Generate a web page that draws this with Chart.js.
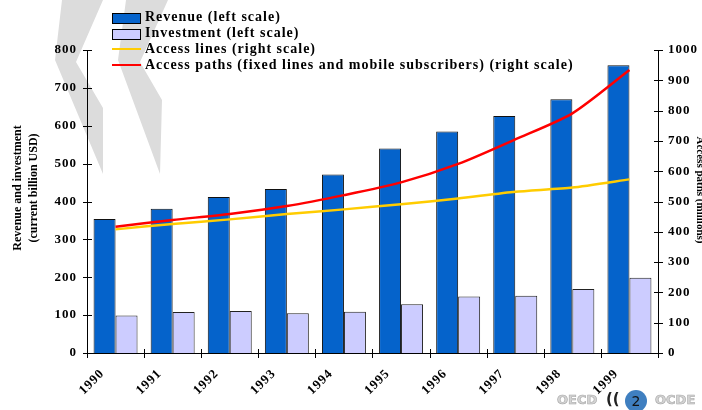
<!DOCTYPE html>
<html>
<head>
<meta charset="utf-8">
<script src="https://cdn.jsdelivr.net/npm/chart.js@4.4.1/dist/chart.umd.min.js"></script>
<style>
  html, body { margin: 0; padding: 0; background: #fff; }
  #wrap { position: relative; width: 702px; height: 410px; overflow: hidden; }
  #chart { position: absolute; left: 0; top: 0; }
  .legend { position: absolute; left: 112px; top: 9px; font: bold 14px "Liberation Serif", serif; letter-spacing: 1px; color: #000; }
  .legend div { height: 16px; line-height: 16px; position: relative; padding-left: 33px; white-space: nowrap; }
  .legend .box { position: absolute; left: 0; top: 4px; width: 27px; height: 9px; border: 1px solid #000; }
  .legend .ln { position: absolute; left: 0; top: 7px; width: 29px; height: 2px; }
</style>
</head>
<body>
<div id="wrap">
  <canvas id="chart" width="702" height="410"></canvas>
  <div class="legend">
    <div><span class="box" style="background:#0563CB"></span>Revenue (left scale)</div>
    <div><span class="box" style="background:#CCCCFF"></span>Investment (left scale)</div>
    <div><span class="ln" style="background:#FFCC00"></span>Access lines (right scale)</div>
    <div><span class="ln" style="background:#FF0000"></span>Access paths (fixed lines and mobile subscribers) (right scale)</div>
  </div>
</div>
<script>
// data
const years = ['1990', '1991', '1992', '1993', '1994', '1995', '1996', '1997', '1998', '1999'];
const revenue = [354, 381, 412, 433, 471, 540, 585, 626, 670, 760];
const investment = [99, 108, 111, 105, 109, 129, 149, 151, 169, 199];
const accessLines = [408, 426, 441, 459, 474, 491, 510, 532, 546, 573];
const accessPaths = [417, 439, 459, 485, 521, 563, 624, 705, 791, 934];

const leftTicks = [0, 100, 200, 300, 400, 500, 600, 700, 800];
const rightTicks = [0, 100, 200, 300, 400, 500, 600, 700, 800, 900, 1000];

const serif = '"Liberation Serif", "Times New Roman", serif';

// grey chevron watermark behind the chart
const watermark = {
  id: 'watermark',
  beforeDraw(chart) {
    const ctx = chart.ctx;
    ctx.save();
    ctx.fillStyle = '#dcdcdc';
    const shapes = [
      [[62, 0], [103, 0], [76, 62], [103, 108], [103, 174], [55, 60]],
      [[126, 0], [168, 0], [140, 62], [162, 100], [160, 174], [118, 60]]
    ];
    shapes.forEach(pts => {
      ctx.beginPath();
      pts.forEach((p, i) => i ? ctx.lineTo(p[0], p[1]) : ctx.moveTo(p[0], p[1]));
      ctx.closePath();
      ctx.fill();
    });
    ctx.restore();
    ctx.letterSpacing = '1px';
  }
};

// axis lines with crossing tick marks, titles and logo
const axesDecor = {
  id: 'axesDecor',
  afterDraw(chart) {
    const ctx = chart.ctx;
    const { x, y, y1 } = chart.scales;
    const area = chart.chartArea;
    ctx.save();
    ctx.letterSpacing = '0px';
    ctx.strokeStyle = '#000';
    ctx.lineWidth = 1;
    ctx.beginPath();
    // left axis
    ctx.moveTo(area.left + 0.5, y.getPixelForValue(800));
    ctx.lineTo(area.left + 0.5, area.bottom);
    leftTicks.forEach(v => {
      const py = Math.round(y.getPixelForValue(v)) + 0.5;
      ctx.moveTo(area.left - 4, py);
      ctx.lineTo(area.left + 5, py);
    });
    // right axis
    ctx.moveTo(area.right + 0.5, y1.getPixelForValue(1000));
    ctx.lineTo(area.right + 0.5, area.bottom);
    rightTicks.forEach(v => {
      const py = Math.round(y1.getPixelForValue(v)) + 0.5;
      ctx.moveTo(area.right - 4, py);
      ctx.lineTo(area.right + 5, py);
    });
    // bottom axis, ticks between categories
    ctx.moveTo(area.left, area.bottom + 0.5);
    ctx.lineTo(area.right, area.bottom + 0.5);
    const step = (x.getPixelForValue(1) - x.getPixelForValue(0));
    for (let i = 0; i <= years.length; i++) {
      const px = Math.round(x.getPixelForValue(0) - step / 2 + i * step) + 0.5;
      ctx.moveTo(px, area.bottom - 4);
      ctx.lineTo(px, area.bottom + 5);
    }
    ctx.stroke();

    // axis titles
    ctx.fillStyle = '#000';
    ctx.font = 'bold 12px ' + serif;
    ctx.textAlign = 'center';
    ctx.textBaseline = 'alphabetic';
    ctx.save();
    ctx.translate(21, 188);
    ctx.rotate(-Math.PI / 2);
    ctx.fillText('Revenue and investment', 0, 0);
    ctx.fillText('(current billion USD)', 0, 16);
    ctx.restore();
    ctx.save();
    ctx.translate(697, 190);
    ctx.rotate(Math.PI / 2);
    ctx.font = 'bold 11px ' + serif;
    ctx.fillText('Access paths (millions)', 0, 0);
    ctx.restore();

    // logo at the bottom right
    ctx.font = 'bold 13px "DejaVu Sans", sans-serif';
    ctx.textBaseline = 'middle';
    ctx.textAlign = 'left';
    ctx.fillStyle = '#d4d4d4';
    ctx.strokeStyle = '#a8a8a8';
    ctx.lineWidth = 0.6;
    ctx.fillText('OECD', 557, 401);
    ctx.strokeText('OECD', 557, 401);
    ctx.fillText('OCDE', 655, 401);
    ctx.strokeText('OCDE', 655, 401);
    ctx.fillStyle = '#222';
    ctx.font = 'bold 15px "DejaVu Sans", sans-serif';
    ctx.fillText('((', 606, 400);
    ctx.fillStyle = '#3f7fc0';
    ctx.beginPath();
    ctx.arc(636, 401, 11, 0, Math.PI * 2);
    ctx.fill();
    ctx.fillStyle = '#111';
    ctx.font = '14px "DejaVu Sans", sans-serif';
    ctx.textAlign = 'center';
    ctx.fillText('2', 636, 402);
    ctx.restore();
  }
};

const tickFont = { family: serif, size: 13, weight: 'bold' };

new Chart(document.getElementById('chart').getContext('2d'), {
  type: 'bar',
  data: {
    labels: years,
    datasets: [
      {
        type: 'line',
        label: 'Access paths (fixed lines and mobile subscribers) (right scale)',
        data: accessPaths,
        yAxisID: 'y1',
        borderColor: '#FF0000',
        borderWidth: 2.5,
        pointRadius: 0,
        tension: 0.25,
        order: 0
      },
      {
        type: 'line',
        label: 'Access lines (right scale)',
        data: accessLines,
        yAxisID: 'y1',
        borderColor: '#FFCC00',
        borderWidth: 2.5,
        pointRadius: 0,
        tension: 0.2,
        order: 1
      },
      {
        label: 'Revenue (left scale)',
        data: revenue,
        yAxisID: 'y',
        backgroundColor: '#0563CB',
        borderColor: '#111',
        borderWidth: 1,
        categoryPercentage: 0.77,
        barPercentage: 1.0,
        order: 2
      },
      {
        label: 'Investment (left scale)',
        data: investment,
        yAxisID: 'y',
        backgroundColor: '#CCCCFF',
        borderColor: '#222',
        borderWidth: 1,
        categoryPercentage: 0.77,
        barPercentage: 1.0,
        order: 3
      }
    ]
  },
  options: {
    responsive: false,
    animation: false,
    layout: { padding: { top: 50, left: 0, right: 0, bottom: 0 } },
    plugins: {
      legend: { display: false },
      tooltip: { enabled: false }
    },
    scales: {
      x: {
        offset: true,
        grid: { display: false, drawTicks: false, offset: true },
        border: { display: false },
        ticks: {
          color: '#000',
          font: tickFont,
          minRotation: 45,
          maxRotation: 45,
          autoSkip: false,
          labelOffset: -13,
          padding: 13
        },
        afterFit: (scale) => { scale.height = 57; }
      },
      y: {
        position: 'left',
        min: 0,
        max: 800,
        grid: { display: false, drawTicks: false },
        border: { display: false },
        ticks: {
          stepSize: 100,
          color: '#000',
          padding: 10,
          font: tickFont,
          callback: (v) => String(v)
        },
        afterFit: (scale) => { scale.width = 87; }
      },
      y1: {
        position: 'right',
        min: 0,
        max: 1000,
        grid: { display: false, drawTicks: false },
        border: { display: false },
        ticks: {
          stepSize: 100,
          color: '#000',
          padding: 10,
          font: tickFont,
          callback: (v) => String(v)
        },
        afterFit: (scale) => { scale.width = 44; }
      }
    }
  },
  plugins: [watermark, axesDecor]
});
</script>
</body>
</html>
